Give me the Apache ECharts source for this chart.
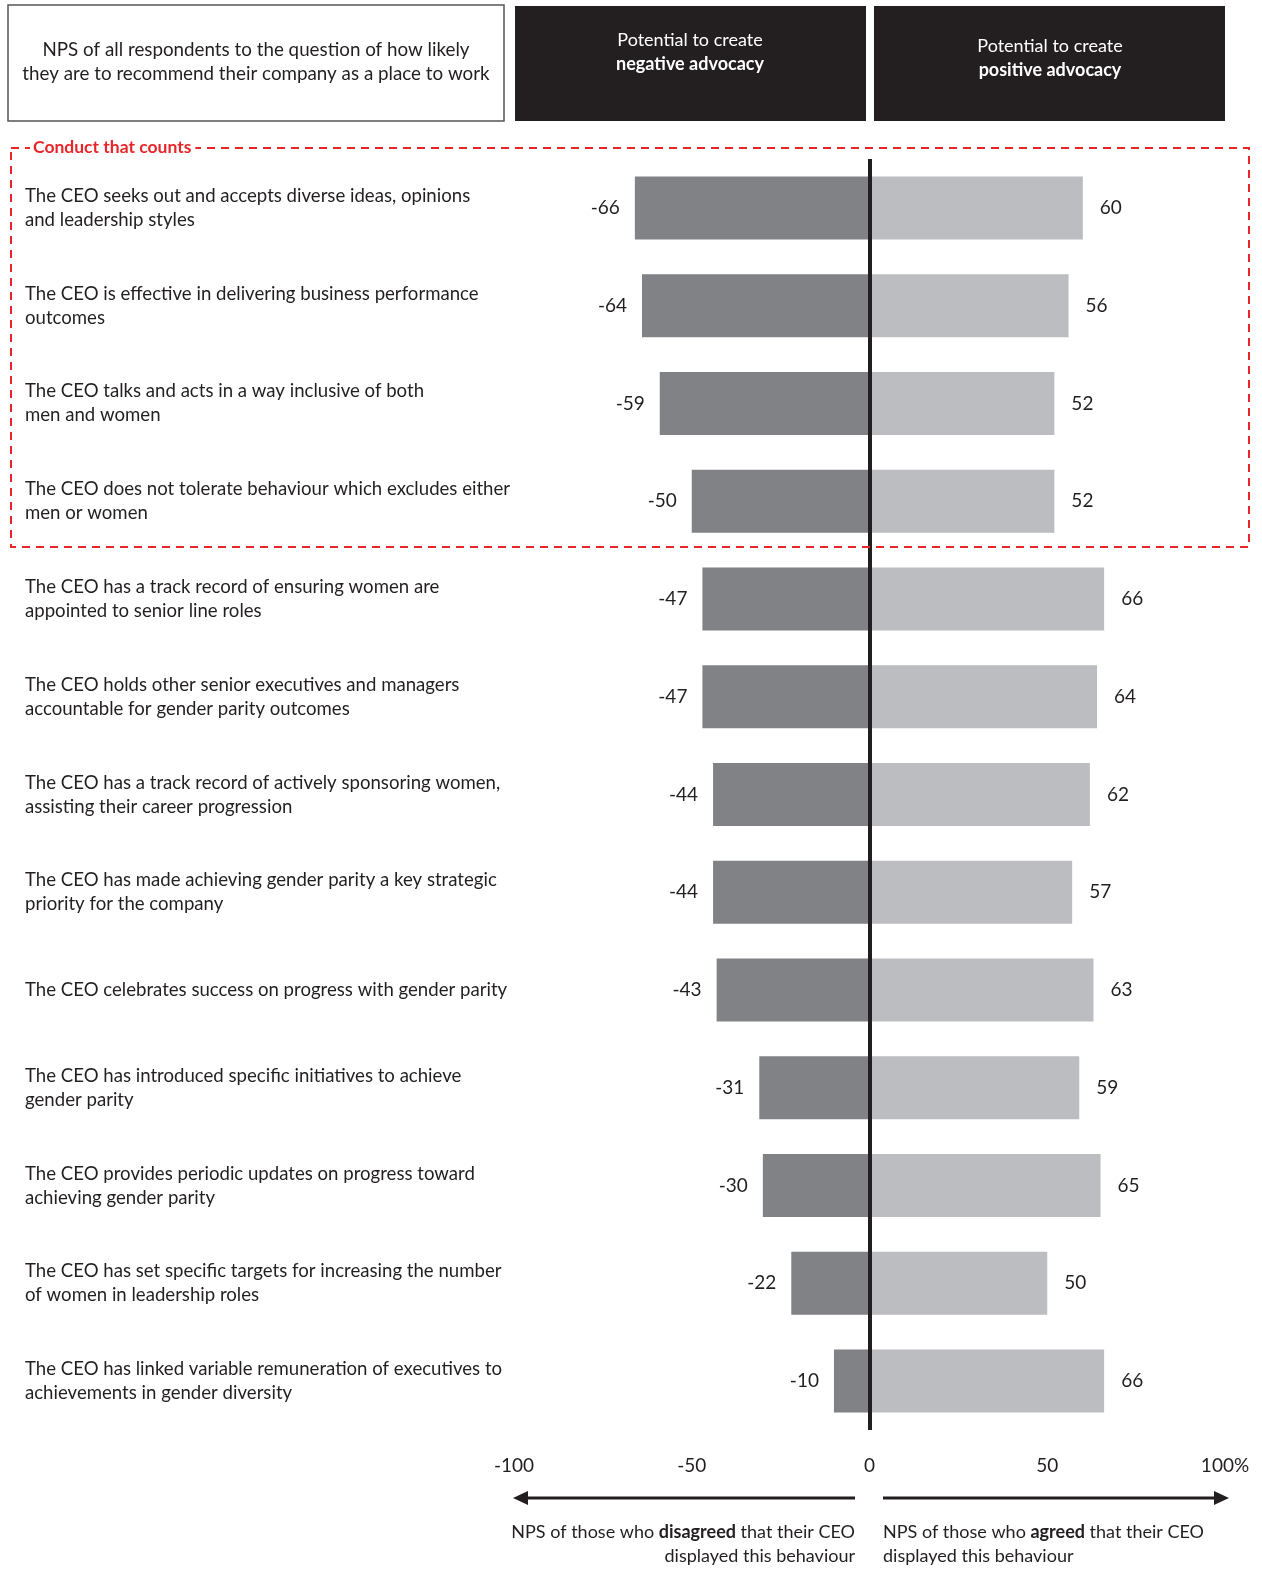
<!DOCTYPE html>
<html>
<head>
<meta charset="utf-8">
<script src="https://cdn.jsdelivr.net/npm/echarts@6/dist/echarts.min.js"></script>
<style>
html,body{margin:0;padding:0;background:#fff;}
#chart{width:1262px;height:1571px;}
</style>
</head>
<body>
<div id="chart"></div>
<script>
var categories = [
  "The CEO seeks out and accepts diverse ideas, opinions\nand leadership styles",
  "The CEO is effective in delivering business performance\noutcomes",
  "The CEO talks and acts in a way inclusive of both\nmen and women",
  "The CEO does not tolerate behaviour which excludes either\nmen or women",
  "The CEO has a track record of ensuring women are\nappointed to senior line roles",
  "The CEO holds other senior executives and managers\naccountable for gender parity outcomes",
  "The CEO has a track record of actively sponsoring women,\nassisting their career progression",
  "The CEO has made achieving gender parity a key strategic\npriority for the company",
  "The CEO celebrates success on progress with gender parity",
  "The CEO has introduced specific initiatives to achieve\ngender parity",
  "The CEO provides periodic updates on progress toward\nachieving gender parity",
  "The CEO has set specific targets for increasing the number\nof women in leadership roles",
  "The CEO has linked variable remuneration of executives to\nachievements in gender diversity"
];
var negativeValues = [-66, -64, -59, -50, -47, -47, -44, -44, -43, -31, -30, -22, -10];
var positiveValues = [60, 56, 52, 52, 66, 64, 62, 57, 63, 59, 65, 50, 66];
var xTicks = [-100, -50, 0, 50, 100];

var FONT = 'Lato, "Noto Sans", sans-serif';
var DARK = '#231f20';

var chart = echarts.init(document.getElementById('chart'), null, {renderer: 'canvas'});

function arrowGraphics() {
  var y = 1498;
  return [
    {type: 'line', shape: {x1: 525, y1: y, x2: 855, y2: y}, style: {stroke: DARK, lineWidth: 3}},
    {type: 'polygon', shape: {points: [[513, y], [528, y - 7], [528, y + 7]]}, style: {fill: DARK}},
    {type: 'line', shape: {x1: 883, y1: y, x2: 1217, y2: y}, style: {stroke: DARK, lineWidth: 3}},
    {type: 'polygon', shape: {points: [[1229, y], [1214, y - 7], [1214, y + 7]]}, style: {fill: DARK}}
  ];
}

var option = {
  animation: false,
  backgroundColor: '#fff',
  grid: {left: 514, right: 37, top: 159, bottom: 141, containLabel: false},
  xAxis: {
    type: 'value',
    min: xTicks[0], max: xTicks[xTicks.length - 1], interval: 50,
    axisLine: {show: false},
    axisTick: {show: false},
    splitLine: {show: false},
    axisLabel: {
      margin: 26,
      color: DARK,
      fontFamily: FONT,
      fontSize: 19,
      formatter: function (v) { return v === 100 ? '100%' : String(v); }
    }
  },
  yAxis: {
    type: 'category',
    data: categories,
    inverse: true,
    axisLine: {show: false, onZero: false},
    axisTick: {show: false},
    splitLine: {show: false},
    axisLabel: {
      align: 'left',
      margin: 489,
      color: DARK,
      fontFamily: FONT,
      fontSize: 18.6,
      lineHeight: 24
    }
  },
  series: [
    {
      type: 'bar',
      name: 'negative',
      data: negativeValues,
      barWidth: 63,
      barGap: '-100%',
      itemStyle: {color: '#818286'},
      label: {
        show: true, position: 'left', distance: 15,
        color: DARK, fontFamily: FONT, fontSize: 19
      }
    },
    {
      type: 'bar',
      name: 'positive',
      data: positiveValues,
      barWidth: 63,
      barGap: '-100%',
      itemStyle: {color: '#bcbdc0'},
      label: {
        show: true, position: 'right', distance: 17,
        color: DARK, fontFamily: FONT, fontSize: 19
      },
      markLine: {
        silent: true,
        symbol: 'none',
        label: {show: false},
        lineStyle: {color: DARK, width: 4, type: 'solid'},
        data: [{xAxis: 0}]
      }
    }
  ],
  graphic: [
    {type: 'rect', shape: {x: 8, y: 5, width: 496, height: 116}, style: {fill: '#fff', stroke: '#555', lineWidth: 1.5}},
    {type: 'text', x: 256, y: 62, style: {text: 'NPS of all respondents to the question of how likely\nthey are to recommend their company as a place to work', fill: DARK, font: '18.8px ' + FONT, textAlign: 'center', textVerticalAlign: 'middle', lineHeight: 24}},
    {type: 'rect', shape: {x: 515, y: 6, width: 351, height: 115}, style: {fill: DARK}},
    {type: 'text', x: 690, y: 52, style: {text: '{n|Potential to create}\n{b|negative advocacy}', rich: {n: {fill: '#fff', fontFamily: FONT, fontSize: 18, lineHeight: 24}, b: {fill: '#fff', fontFamily: FONT, fontSize: 18, fontWeight: 'bold', lineHeight: 24}}, textAlign: 'center', textVerticalAlign: 'middle'}},
    {type: 'rect', shape: {x: 874, y: 6, width: 351, height: 115}, style: {fill: DARK}},
    {type: 'text', x: 1050, y: 58, style: {text: '{n|Potential to create}\n{b|positive advocacy}', rich: {n: {fill: '#fff', fontFamily: FONT, fontSize: 18, lineHeight: 24}, b: {fill: '#fff', fontFamily: FONT, fontSize: 18, fontWeight: 'bold', lineHeight: 24}}, textAlign: 'center', textVerticalAlign: 'middle'}},
    {type: 'rect', z: 10, shape: {x: 11, y: 148, width: 1238, height: 399}, style: {fill: 'none', stroke: '#e8262a', lineWidth: 2, lineDash: [8, 6]}},
    {type: 'text', z: 11, x: 30, y: 147, style: {text: 'Conduct that counts', fill: '#e8262a', font: 'bold 17.5px ' + FONT, textVerticalAlign: 'middle', backgroundColor: '#fff', padding: [2, 4, 2, 3]}},
    {type: 'text', x: 855, y: 1544, style: {text: '{n|NPS of those who }{b|disagreed}{n| that their CEO}\n{n|displayed this behaviour}', rich: {n: {fill: DARK, fontFamily: FONT, fontSize: 18, lineHeight: 24}, b: {fill: DARK, fontFamily: FONT, fontSize: 18, fontWeight: 'bold', lineHeight: 24}}, textAlign: 'right', textVerticalAlign: 'middle'}},
    {type: 'text', x: 883, y: 1544, style: {text: '{n|NPS of those who }{b|agreed}{n| that their CEO}\n{n|displayed this behaviour}', rich: {n: {fill: DARK, fontFamily: FONT, fontSize: 18, lineHeight: 24}, b: {fill: DARK, fontFamily: FONT, fontSize: 18, fontWeight: 'bold', lineHeight: 24}}, textAlign: 'left', textVerticalAlign: 'middle'}}
  ].concat(arrowGraphics())
};

chart.setOption(option);
</script>
</body>
</html>
